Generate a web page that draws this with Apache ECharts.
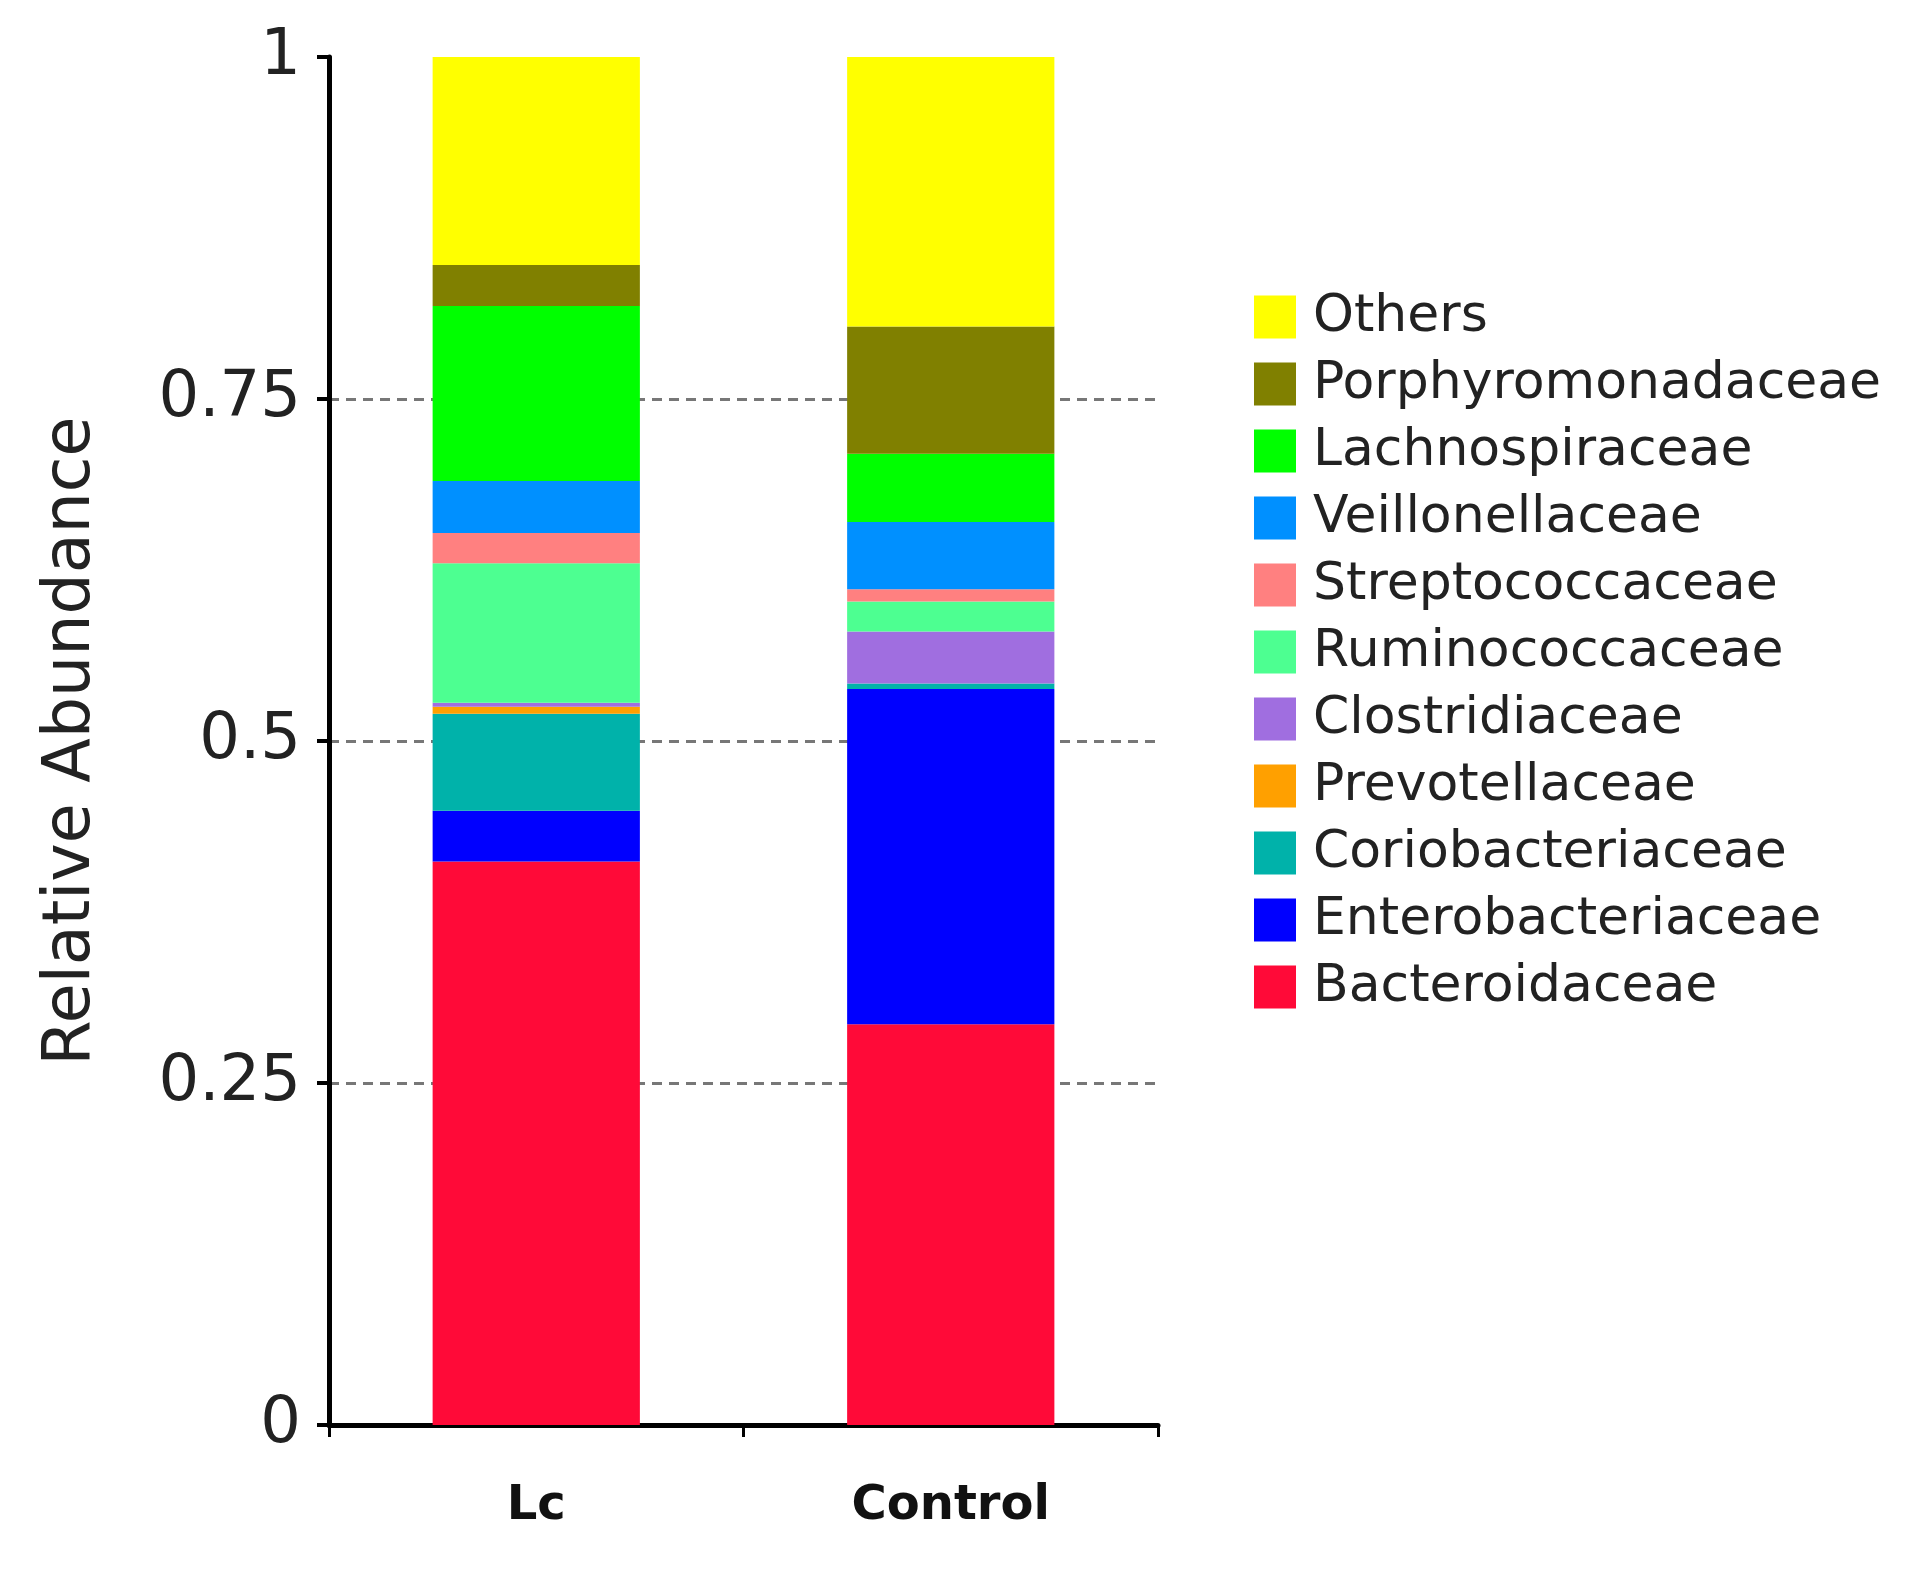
<!DOCTYPE html>
<html>
<head>
<meta charset="utf-8">
<title>Relative Abundance</title>
<script src="https://cdn.jsdelivr.net/npm/echarts@6/dist/echarts.min.js"></script>
<style>
    html, body { margin: 0; padding: 0; background: #fff; }
    #chart { width: 1913px; height: 1570px; }
</style>
</head>
<body>
<div id="chart"></div>
<script>
// groups on the x axis
var groups = ['Lc', 'Control'];

// families, bottom of the stack first
var families = ['Bacteroidaceae', 'Enterobacteriaceae', 'Coriobacteriaceae', 'Prevotellaceae',
    'Clostridiaceae', 'Ruminococcaceae', 'Streptococcaceae', 'Veillonellaceae',
    'Lachnospiraceae', 'Porphyromonadaceae', 'Others'];

var colors = ['#ff0a38', '#0000ff', '#00b2aa', '#ffa000', '#a06ee0', '#4dff91',
    '#ff8080', '#0090ff', '#00ff00', '#808000', '#ffff00'];

// values per family: [Lc, Control]
var bacteroidaceae = [0.412, 0.293];
var enterobacteriaceae = [0.037, 0.245];
var coriobacteriaceae = [0.071, 0.004];
var prevotellaceae = [0.005, 0];
var clostridiaceae = [0.003, 0.038];
var ruminococcaceae = [0.102, 0.022];
var streptococcaceae = [0.022, 0.009];
var veillonellaceae = [0.038, 0.049];
var lachnospiraceae = [0.128, 0.050];
var porphyromonadaceae = [0.030, 0.093];
var others = [0.152, 0.197];

var values = [bacteroidaceae, enterobacteriaceae, coriobacteriaceae, prevotellaceae,
    clostridiaceae, ruminococcaceae, streptococcaceae, veillonellaceae,
    lachnospiraceae, porphyromonadaceae, others];

var yTicks = [0, 0.25, 0.5, 0.75, 1];

var myChart = echarts.init(document.getElementById('chart'), null, {renderer: 'canvas'});

var font = 'DejaVu Sans';

var series = families.map(function (name, i) {
    return {
        name: name,
        type: 'bar',
        stack: 'total',
        barWidth: '50%',
        itemStyle: {color: colors[i]},
        emphasis: {disabled: true},
        data: values[i]
    };
});

var option = {
    backgroundColor: '#fff',
    animation: false,
    textStyle: {fontFamily: font},
    grid: {
        left: 329,
        right: 755,
        top: 57,
        bottom: 145
    },
    legend: {
        orient: 'vertical',
        left: 1249,
        top: 286,
        icon: 'rect',
        itemWidth: 42,
        itemHeight: 43,
        itemGap: 15,
        selectedMode: false,
        textStyle: {
            fontFamily: font,
            fontSize: 52,
            lineHeight: 43,
            color: '#222',
            padding: [0, 0, 0, 12]
        },
        data: families.slice().reverse()
    },
    xAxis: {
        type: 'category',
        data: groups,
        axisLine: {lineStyle: {color: '#000', width: 5}},
        axisTick: {show: true, length: 12, lineStyle: {color: '#000', width: 3}},
        axisLabel: {
            interval: 0,
            margin: 58,
            fontFamily: font,
            fontWeight: 'bold',
            fontSize: 48,
            color: '#111'
        }
    },
    yAxis: {
        type: 'value',
        min: yTicks[0],
        max: yTicks[yTicks.length - 1],
        interval: 0.25,
        name: 'Relative Abundance',
        nameLocation: 'middle',
        nameGap: 224,
        nameTextStyle: {fontFamily: font, fontSize: 65, color: '#222'},
        axisLine: {show: true, lineStyle: {color: '#000', width: 5}},
        axisTick: {show: true, length: 12, lineStyle: {color: '#000', width: 4}},
        axisLabel: {
            margin: 28,
            fontFamily: font,
            fontSize: 64,
            color: '#222',
            formatter: function (v) { return String(v); }
        },
        splitLine: {
            show: true,
            showMinLine: false,
            showMaxLine: false,
            lineStyle: {color: '#777', width: 3, type: [10, 7]}
        }
    },
    series: series
};

myChart.setOption(option);
</script>
</body>
</html>
